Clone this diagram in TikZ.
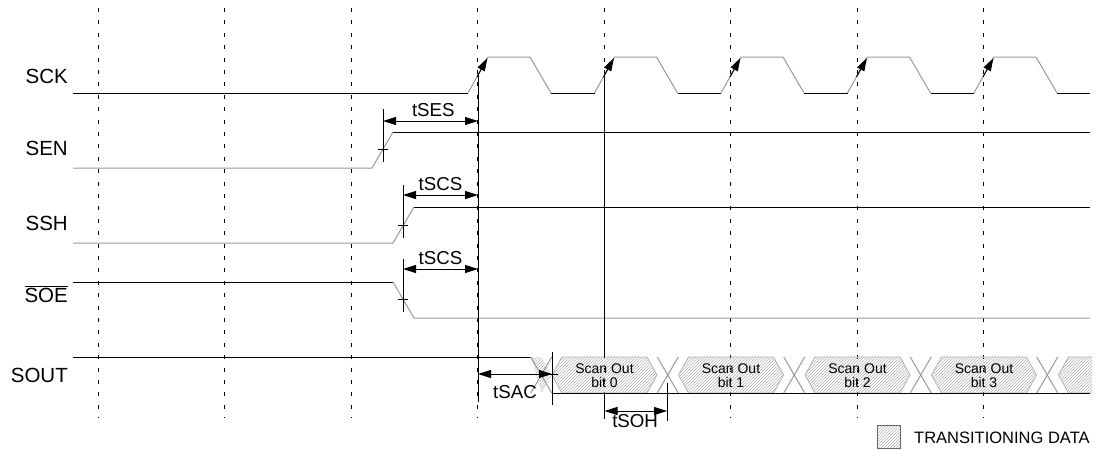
\documentclass[tikz,border=0pt]{standalone}
\usepackage{fontspec}
\setmainfont{Liberation Sans}
\usetikzlibrary{arrows.meta,patterns,positioning}
\tikzset{
  sig/.style = {line width=1pt, black},
  slope/.style = {line width=1pt, black!40},
  grid/.style = {line width=1pt, dash pattern=on 4pt off 8.4pt},
  dim/.style = {line width=1pt, {Triangle[length=13pt,width=8pt]}-{Triangle[length=13pt,width=8pt]}},
  clk/.style = {line width=1pt, -{Triangle[length=13pt,width=8pt]}},
  signame/.style = {font=\fontsize{20.5}{24}\selectfont, anchor=base east, inner sep=0pt},
  tlbl/.style = {font=\fontsize{18.7}{22}\selectfont, anchor=base, inner sep=0pt},
  bitlbl/.style = {font=\fontsize{14}{14}\selectfont, align=center, inner sep=0pt},
  hatch/.style = {pattern=north east lines, pattern color=black!30},
  hexa/.style = {hatch, draw=black!30, line width=0.8pt}
}
\begin{document}
\begin{tikzpicture}[x=1pt,y=-1pt]
  \useasboundingbox (0,0) rectangle (1101,450);
  % time grid
  \foreach \k in {0,...,7}
    \draw[grid] (98+126.5*\k,8) -- (98+126.5*\k,418);

  % signal names
  \node[signame] (sck) at (68,83.3) {SCK};
  \node[signame] (sen) at (68,155.3) {SEN};
  \node[signame] (ssh) at (68,230) {SSH};
  \node[signame] (soe) at (68,302) {$\overline{\hbox{SOE}}$};
  \node[signame] (sout) at (68,382) {SOUT};

  % SCK
  \draw[sig] (73,93) -- (468,93);
  \foreach \d in {478,604.5,731,857.5,984} {
    \draw[slope] (\d-10,93) -- (\d+10,57) -- (\d+52,57) -- (\d+73,93);
    \draw[clk] (\d-1,77) -- (\d+9.4,58);
  }
  \foreach \d in {478,604.5,731,857.5}
    \draw[sig] (\d+73,93) -- (\d+116.5,93);
  \draw[sig] (1057,93) -- (1090,93);
  \coordinate (e0) at (478,75);
  \coordinate (e1) at (604.5,75);

  % SEN
  \draw[slope] (73,168) -- (372,168) -- (393,132);
  \draw[sig] (393,132) -- (1090,132);
  \draw[sig] (383,109) -- (383,162) (378,149) -- (388,149);
  \coordinate (sesL) at (383,121);
  \draw[dim] (sesL) -- (e0 |- sesL) node[tlbl, pos=0.53, yshift=5pt] {tSES};

  % SSH
  \draw[slope] (73,243) -- (393,243) -- (414,207);
  \draw[sig] (414,207) -- (1090,207);
  \draw[sig] (403,185) -- (403,238) (398,225) -- (408,225);
  \coordinate (scsA) at (403,195);
  \draw[dim] (scsA) -- (e0 |- scsA) node[tlbl, pos=0.5, yshift=5pt] {tSCS};

  % SOE
  \draw[sig] (73,282) -- (393,282);
  \draw[slope] (393,282) -- (414,318) -- (1090,318);
  \draw[sig] (403,259) -- (403,312) (398,299) -- (408,299);
  \coordinate (scsB) at (403,269);
  \draw[dim] (scsB) -- (e0 |- scsB) node[tlbl, pos=0.5, yshift=5pt] {tSCS};

  % SOUT bus
  \draw[sig] (73,357) -- (531,357);
  \fill[hatch] (531,357) -- (541.5,357) -- (552,375) -- (541.5,393) -- cycle;
  \foreach \d/\b in {604.5/0,731/1,857.5/2,984/3} {
    \filldraw[hexa] (\d-42.5,357) -- (\d+42.5,357) -- (\d+52.5,375)
      -- (\d+42.5,393) -- (\d-42.5,393) -- (\d-52.5,375) -- cycle;
    \node[bitlbl] (bit\b) at (\d,376) {Scan Out\\bit \b};
  }
  \filldraw[hexa] (1092,357) -- (1068.5,357) -- (1058.5,375) -- (1068.5,393) -- (1092,393);
  \foreach \c in {541.25,667.75,794.25,920.75,1047.25} {
    \draw[slope] (\c-10.5,357) -- (\c+10.5,393);
    \draw[slope] (\c+10.5,357) -- (\c-10.5,393);
  }
  \draw[sig] (552,393) -- (1090,393);

  % SOUT timing
  \draw[sig] (e0) -- (478,402);
  \draw[sig] (e1) -- (604.5,357);
  \coordinate (sacR) at (552,374);
  \draw[sig] (552,352) -- (552,405) (546,374) -- (558,374);
  \draw[dim] (e0 |- sacR) -- (sacR) node[tlbl, pos=0.5, yshift=-24pt] {tSAC};
  \coordinate (sohR) at (667,411);
  \draw[sig] (604.5,393) -- (604.5,419);
  \draw[sig] (667,383) -- (667,421);
  \draw[dim] (e1 |- sohR) -- (sohR) node[tlbl, pos=0.49, yshift=-16pt] {tSOH};

  % legend
  \filldraw[hatch, draw=black!60, line width=0.8pt] (877,425) rectangle (900,448);
  \node[font=\fontsize{16.5}{18}\selectfont, anchor=base west, inner sep=0pt] (leg) at (914,443) {TRANSITIONING DATA};
\end{tikzpicture}
\end{document}
